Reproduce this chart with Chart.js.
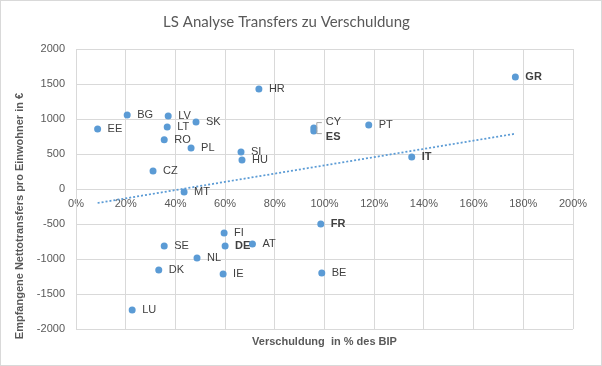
<!DOCTYPE html>
<html>
<head>
<meta charset="utf-8">
<script src="https://cdn.jsdelivr.net/npm/chart.js@4/dist/chart.umd.min.js"></script>
<style>
  body { margin: 0; background: #fff; }
  #wrap { width: 602px; height: 366px; }
</style>
</head>
<body>
<div id="wrap"><canvas id="scatterChart" width="602" height="366"></canvas></div>
<script>
// Länder, Verschuldung (% des BIP) und Nettotransfers (€ pro Einwohner)
const countries = ['HR', 'BG', 'LV', 'SK', 'EE', 'LT', 'RO', 'PL', 'SI', 'HU', 'CZ', 'MT', 'CY', 'ES', 'GR', 'PT', 'IT',
                   'FI', 'SE', 'DE', 'AT', 'NL', 'DK', 'IE', 'LU', 'FR', 'BE'];
const debt = [73.6, 20.6, 37.1, 48.3, 8.7, 36.7, 35.5, 46.3, 66.4, 66.8, 31.0, 43.5, 95.7, 95.7, 176.8, 117.8, 135.1,
              59.6, 35.5, 60.0, 71.0, 48.7, 33.3, 59.2, 22.6, 98.5, 98.9];
const transfers = [1430, 1057, 1043, 957, 857, 886, 704, 586, 529, 414, 257, -43, 870, 830, 1600, 914, 457,
                   -629, -814, -814, -786, -986, -1157, -1214, -1729, -500, -1200];
const boldCountries = ['GR', 'ES', 'IT', 'DE', 'FR'];

// lineare Trendlinie
const trendX = [8.7, 176.8];
const trendY = [-200, 790];

const xTicks = { min: 0, max: 200, step: 20 };
const yTicks = { min: -2000, max: 2000, step: 500 };

const points = debt.map((d, i) => ({ x: d, y: transfers[i] }));
const trend = trendX.map((d, i) => ({ x: d, y: trendY[i] }));

const blue = '#5b9bd5';
const gridColor = '#d9d9d9';
const textColor = '#595959';

// Beschriftungen, Achsentitel und Rahmen
const labelPlugin = {
  id: 'labels',
  afterDatasetsDraw(chart) {
    const ctx = chart.ctx;
    const meta = chart.getDatasetMeta(1);
    ctx.save();
    ctx.textBaseline = 'middle';
    ctx.fillStyle = '#404040';
    meta.data.forEach((el, i) => {
      const name = countries[i];
      const bold = boldCountries.includes(name);
      ctx.font = (bold ? 'bold ' : '') + '11px "Liberation Sans"';
      let dy = 0;
      let dx = 10;
      if (name === 'CY') { dy = -6; dx = 12; }
      if (name === 'ES') { dy = 6; dx = 12; }
      ctx.fillText(name, el.x + dx, el.y + dy);
    });
    // Führungslinie für CY / ES
    const cy = meta.data[countries.indexOf('CY')];
    if (cy) {
      ctx.strokeStyle = '#a6a6a6';
      ctx.lineWidth = 1;
      ctx.beginPath();
      ctx.moveTo(cy.x + 8, cy.y - 5.5);
      ctx.lineTo(cy.x + 3, cy.y - 5.5);
      ctx.lineTo(cy.x + 3, cy.y + 5.5);
      ctx.lineTo(cy.x + 8, cy.y + 5.5);
      ctx.stroke();
    }
    ctx.restore();
  },
  afterDraw(chart) {
    const ctx = chart.ctx;
    const area = chart.chartArea;
    ctx.save();
    ctx.fillStyle = textColor;
    ctx.font = 'bold 11px "Liberation Sans"';
    ctx.textAlign = 'center';
    ctx.textBaseline = 'middle';
    ctx.fillText('Verschuldung  in % des BIP', (area.left + area.right) / 2, 342);
    ctx.translate(20, 216);
    ctx.rotate(-Math.PI / 2);
    ctx.fillText('Empfangene Nettotransfers pro Einwohner in €', 0, 0);
    ctx.restore();
    ctx.save();
    ctx.strokeStyle = gridColor;
    ctx.strokeRect(0.5, 0.5, chart.width - 1, chart.height - 1);
    ctx.restore();
  }
};

new Chart(document.getElementById('scatterChart'), {
  type: 'scatter',
  data: {
    datasets: [
      {
        type: 'line',
        label: 'Linear',
        data: trend,
        borderColor: blue,
        borderWidth: 1.75,
        borderDash: [2, 2],
        pointRadius: 0,
        fill: false
      },
      {
        label: 'Länder',
        data: points,
        backgroundColor: blue,
        borderWidth: 0,
        pointRadius: 3.5
      }
    ]
  },
  options: {
    responsive: false,
    animation: false,
    devicePixelRatio: 1,
    layout: { padding: { left: 0, right: 29, bottom: 37 } },
    plugins: {
      legend: { display: false },
      tooltip: { enabled: false },
      title: {
        display: true,
        text: 'LS Analyse Transfers zu Verschuldung',
        color: textColor,
        font: { family: 'Lato', size: 15, weight: 'normal' },
        padding: { top: 13, bottom: 18 }
      }
    },
    scales: {
      x: {
        type: 'linear',
        position: { y: 0 },
        min: xTicks.min,
        max: xTicks.max,
        grid: { color: gridColor, drawTicks: false },
        border: { color: gridColor },
        ticks: {
          stepSize: xTicks.step,
          padding: 8,
          color: textColor,
          font: { family: 'Liberation Sans', size: 11 },
          callback: v => v + '%'
        }
      },
      y: {
        min: yTicks.min,
        max: yTicks.max,
        afterFit: s => { s.width = 76; },
        grid: { color: gridColor, drawTicks: false },
        border: { color: gridColor },
        ticks: {
          stepSize: yTicks.step,
          padding: 11,
          color: textColor,
          font: { family: 'Liberation Sans', size: 11 },
          callback: v => String(v)
        }
      }
    }
  },
  plugins: [labelPlugin]
});
</script>
</body>
</html>
